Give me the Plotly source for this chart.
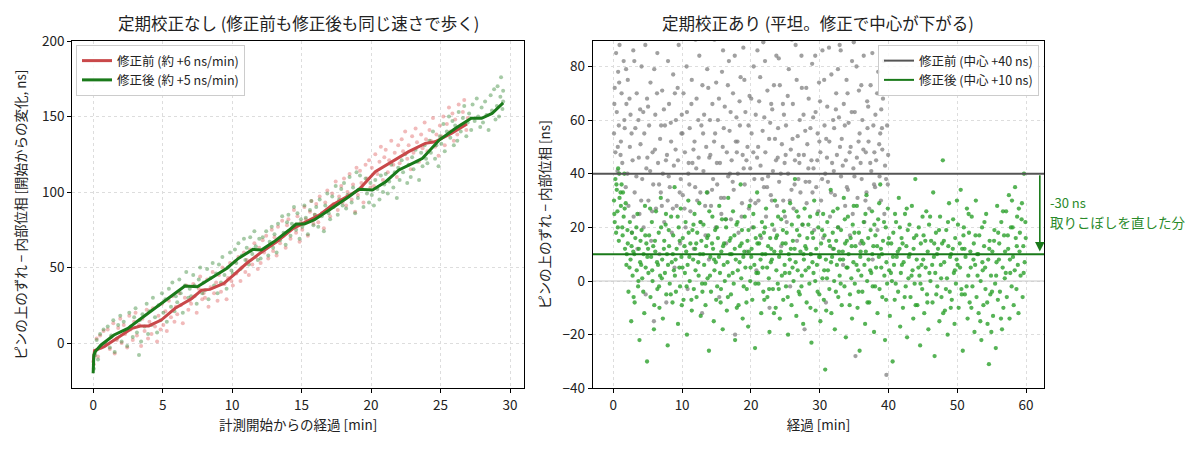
import plotly.graph_objects as go
from plotly.subplots import make_subplots

# ---- left panel: no periodic calibration (both drift) ----
before_line_t = [0, 0.1, 0.8, 1.9, 2.8, 3.4, 4.0, 4.9, 5.9, 7.1, 7.8, 8.4, 9.4, 10.1, 11.05, 12.0,
                 13.2, 14.4, 15.3, 16.3, 17.2, 18.2, 19.1, 20.3, 21.5, 22.7, 23.9, 24.6, 25.8, 26.9]
before_line_ns = [-13, -5, -2.4, 4.2, 9.7, 11.3, 11.3, 15.2, 23, 29.5, 35, 35.5, 39.5, 45, 52.8, 59.4,
                  67, 75.9, 80.3, 84.8, 91.4, 96.9, 101.3, 113.4, 120, 126.7, 132.2, 133.3, 138.9, 145]

after_line_t = [0, 0.05, 0.15, 0.57, 1.5, 2.5, 3.3, 4.6, 5.6, 6.6, 7.5, 8.3, 9.6, 10.45, 11.5, 12.1,
                13.0, 14.1, 14.6, 15.2, 15.9, 16.8, 17.7, 18.4, 19.1, 20.1, 21.05, 22.0, 23.2, 23.7,
                24.9, 26.05, 27.2, 27.95, 28.7, 29.5]
after_line_ns = [-20, -8, -5.7, -1.3, 5.3, 9.7, 15.2, 24, 30.7, 37.7, 37.3, 41.7, 49.4, 56, 62, 61.6,
                 67, 74.8, 78.8, 78.8, 81.5, 87, 92.5, 96.9, 101.8, 101.3, 106.8, 114.6, 120, 122.3,
                 134.4, 142, 148.8, 148.8, 152, 159]

before_pts = [
    (0.05, -14), (0.15, -6), (0.25, 3), (0.35, -9), (0.5, 5), (0.6, -3), (0.75, 8), (0.9, -1),
    (1.05, 9), (1.2, -4), (1.3, 4), (1.45, 13), (1.55, -7), (1.7, 2), (1.8, 10), (1.95, 16),
    (2.05, 0), (2.2, 12), (2.3, 6), (2.45, -3), (2.6, 18), (2.7, 9), (2.85, 2), (2.95, 14),
    (3.05, 20), (3.15, 5), (3.3, 12), (3.45, -2), (3.55, 16), (3.7, 8), (3.85, 22), (3.95, 3),
    (4.05, 14), (4.2, 6), (4.3, 23), (4.45, 11), (4.6, 1), (4.7, 18), (4.85, 9), (4.95, 26),
    (5.05, 12), (5.2, 21), (5.3, 8), (5.45, 28), (5.6, 17), (5.7, 31), (5.85, 14), (5.95, 24),
    (6.05, 19), (6.2, 33), (6.3, 25), (6.45, 13), (6.6, 30), (6.7, 38), (6.85, 22), (6.95, 28),
    (7.05, 26), (7.2, 39), (7.3, 31), (7.45, 20), (7.6, 36), (7.7, 44), (7.85, 29), (7.95, 33),
    (8.05, 30), (8.2, 42), (8.3, 24), (8.45, 37), (8.6, 47), (8.7, 33), (8.85, 40), (8.95, 28),
    (9.05, 45), (9.2, 34), (9.3, 50), (9.45, 39), (9.6, 29), (9.7, 43), (9.85, 53), (9.95, 41),
    (10.05, 38), (10.2, 54), (10.3, 46), (10.45, 57), (10.6, 41), (10.7, 50), (10.85, 60), (10.95, 47),
    (11.05, 55), (11.2, 45), (11.3, 62), (11.45, 52), (11.6, 66), (11.7, 57), (11.85, 49), (11.95, 63),
    (12.05, 53), (12.2, 68), (12.3, 60), (12.45, 71), (12.6, 56), (12.7, 65), (12.85, 75), (12.95, 61),
    (13.05, 70), (13.2, 58), (13.3, 77), (13.45, 66), (13.6, 81), (13.7, 71), (13.85, 63), (13.95, 78),
    (14.05, 82), (14.2, 69), (14.3, 76), (14.45, 88), (14.6, 73), (14.7, 84), (14.85, 67), (14.95, 80),
    (15.05, 75), (15.2, 90), (15.3, 82), (15.45, 71), (15.6, 87), (15.7, 94), (15.85, 79), (15.95, 85),
    (16.05, 92), (16.2, 80), (16.3, 97), (16.45, 86), (16.6, 76), (16.7, 93), (16.85, 101), (16.95, 88),
    (17.05, 84), (17.2, 99), (17.3, 92), (17.45, 107), (17.6, 88), (17.7, 97), (17.85, 104), (17.95, 93),
    (18.05, 109), (18.2, 91), (18.3, 100), (18.45, 112), (18.6, 95), (18.7, 105), (18.85, 87), (18.95, 116),
    (19.05, 98), (19.2, 114), (19.3, 106), (19.45, 93), (19.6, 118), (19.7, 109), (19.85, 121), (19.95, 103),
    (20.05, 116), (20.2, 104), (20.3, 125), (20.45, 112), (20.6, 120), (20.7, 130), (20.85, 108), (20.95, 123),
    (21.05, 128), (21.2, 113), (21.3, 121), (21.45, 134), (21.6, 118), (21.7, 126), (21.85, 110), (21.95, 131),
    (22.05, 119), (22.2, 135), (22.3, 127), (22.45, 140), (22.6, 122), (22.7, 131), (22.85, 115), (22.95, 137),
    (23.05, 126), (23.2, 142), (23.3, 133), (23.45, 120), (23.6, 138), (23.7, 129), (23.85, 146), (23.95, 135),
    (24.05, 127), (24.2, 141), (24.3, 134), (24.45, 149), (24.6, 130), (24.7, 138), (24.85, 124), (24.95, 144),
    (25.05, 137), (25.2, 150), (25.3, 131), (25.45, 145), (25.6, 156), (25.7, 140), (25.85, 152), (25.95, 134),
    (26.05, 148), (26.2, 138), (26.3, 158), (26.45, 144), (26.6, 153), (26.7, 161), (26.85, 141), (26.95, 149),
]

after_pts = [
    (0.05, -17), (0.15, -8), (0.25, 2), (0.35, -11), (0.5, 6), (0.6, -2), (0.75, 9), (0.9, 0),
    (1.05, 11), (1.2, -3), (1.3, 5), (1.45, 15), (1.55, -6), (1.7, 3), (1.8, 12), (1.95, 18),
    (2.05, 1), (2.2, 14), (2.3, 8), (2.45, -2), (2.6, 20), (2.7, 11), (2.85, 4), (2.95, 17),
    (3.05, 23), (3.15, 7), (3.3, -8), (3.35, 15), (3.45, 1), (3.55, 19), (3.7, 11), (3.85, 26), (3.95, 6),
    (4.05, 21), (4.2, 12), (4.3, 30), (4.45, 17), (4.6, 7), (4.7, 25), (4.85, 15), (4.95, 33),
    (5.05, 20), (5.2, 29), (5.3, 14), (5.45, 36), (5.6, 24), (5.7, 40), (5.85, 21), (5.95, 31),
    (6.05, 27), (6.2, 42), (6.3, 33), (6.45, 20), (6.6, 38), (6.7, 47), (6.85, 30), (6.95, 36),
    (7.05, 31), (7.2, 45), (7.3, 38), (7.45, 26), (7.6, 42), (7.7, 50), (7.85, 33), (7.95, 40),
    (8.05, 35), (8.2, 49), (8.3, 29), (8.45, 43), (8.6, 53), (8.7, 38), (8.85, 46), (8.95, 33),
    (9.05, 52), (9.2, 40), (9.3, 57), (9.45, 45), (9.6, 36), (9.7, 50), (9.85, 60), (9.95, 48),
    (10.05, 46), (10.2, 62), (10.3, 53), (10.45, 66), (10.6, 49), (10.7, 58), (10.85, 69), (10.95, 55),
    (11.05, 63), (11.2, 52), (11.3, 70), (11.45, 59), (11.6, 74), (11.7, 64), (11.85, 55), (11.95, 69),
    (12.05, 56), (12.2, 70), (12.3, 62), (12.45, 74), (12.6, 58), (12.7, 67), (12.85, 77), (12.95, 63),
    (13.05, 72), (13.2, 60), (13.3, 79), (13.45, 68), (13.6, 84), (13.7, 73), (13.85, 65), (13.95, 80),
    (14.05, 85), (14.2, 71), (14.3, 79), (14.45, 90), (14.6, 75), (14.7, 86), (14.85, 69), (14.95, 82),
    (15.05, 77), (15.2, 91), (15.3, 83), (15.45, 72), (15.6, 88), (15.7, 94), (15.85, 78), (15.95, 85),
    (16.05, 90), (16.2, 77), (16.3, 95), (16.45, 84), (16.6, 74), (16.7, 91), (16.85, 99), (16.95, 86),
    (17.05, 82), (17.2, 97), (17.3, 90), (17.45, 104), (17.6, 85), (17.7, 95), (17.85, 102), (17.95, 91),
    (18.05, 106), (18.2, 89), (18.3, 98), (18.45, 110), (18.6, 93), (18.7, 103), (18.85, 86), (18.95, 113),
    (19.05, 96), (19.2, 111), (19.3, 103), (19.45, 90), (19.6, 109), (19.7, 99), (19.85, 93), (19.95, 106),
    (20.05, 98), (20.2, 91), (20.3, 108), (20.45, 102), (20.6, 95), (20.7, 111), (20.85, 100), (20.95, 105),
    (21.05, 112), (21.2, 99), (21.3, 107), (21.45, 118), (21.6, 103), (21.7, 113), (21.85, 96), (21.95, 116),
    (22.05, 108), (22.2, 121), (22.3, 113), (22.45, 125), (22.6, 106), (22.7, 118), (22.85, 110), (22.95, 123),
    (23.05, 115), (23.2, 128), (23.3, 120), (23.45, 108), (23.6, 126), (23.7, 117), (23.85, 131), (23.95, 122),
    (24.05, 119), (24.2, 134), (24.3, 126), (24.45, 140), (24.6, 122), (24.7, 131), (24.85, 117), (24.95, 137),
    (25.05, 132), (25.2, 145), (25.3, 127), (25.45, 140), (25.6, 150), (25.7, 136), (25.85, 147), (25.95, 131),
    (26.05, 144), (26.2, 134), (26.3, 153), (26.45, 140), (26.6, 149), (26.7, 157), (26.85, 137), (26.95, 146),
    (27.05, 152), (27.2, 141), (27.3, 158), (27.45, 147), (27.6, 162), (27.7, 150), (27.85, 143), (27.95, 156),
    (28.05, 146), (28.2, 160), (28.3, 151), (28.45, 141), (28.6, 164), (28.7, 154), (28.85, 168), (28.95, 148),
    (29.05, 157), (29.1, 170), (29.2, 150), (29.3, 163), (29.35, 176), (29.45, 155), (29.5, 167), (29.5, 160),
]

# ---- right panel: periodic calibration (flat) ----
center_before = 40
center_after = 10

gray_pts = [
    (0.1, 55), (0.2, 72), (0.3, 48), (0.4, 85), (0.5, 63), (0.6, 41), (0.7, 78), (0.8, 58), (0.9, 88),
    (1.1, 52), (1.2, 70), (1.3, 44), (1.5, 82), (1.6, 60), (1.8, 35), (1.9, 66),
    (2.1, 75), (2.2, 28), (2.4, 50), (2.5, 62), (2.7, 18), (2.8, 45), (2.9, 86),
    (3.1, 33), (3.2, 57), (3.4, 70), (3.5, 12), (3.7, 46), (3.8, 25), (3.9, 64),
    (4.1, 80), (4.2, 38), (4.4, 20), (4.5, 55), (4.7, -5), (4.8, 42), (4.9, 68),
    (5.1, 30), (5.2, 58), (5.4, 74), (5.5, 15), (5.7, 48), (5.8, 36), (5.9, -15),
    (6.1, 62), (6.2, 27), (6.4, 85), (6.5, 44), (6.7, 10), (6.8, 53), (6.9, 33),
    (7.1, 71), (7.2, 40), (7.4, 22), (7.5, 58), (7.7, -8), (7.8, 47), (7.9, 30),
    (8.1, 66), (8.2, 35), (8.4, 52), (8.5, 18), (8.7, 77), (8.8, 43), (8.9, 5),
    (9.1, 60), (9.2, 28), (9.4, 45), (9.5, 88), (9.7, 14), (9.8, 38), (9.9, 55),
    (10.1, 32), (10.2, 70), (10.4, 48), (10.5, 20), (10.7, 63), (10.8, -3), (10.9, 40),
    (11.1, 57), (11.2, 26), (11.4, 75), (11.5, 44), (11.7, 12), (11.8, 52), (11.9, 35),
    (12.1, 68), (12.2, 30), (12.4, 46), (12.5, 84), (12.7, 22), (12.8, 58), (12.9, -12),
    (13.1, 41), (13.2, 62), (13.4, 17), (13.5, 50), (13.7, 33), (13.8, 72), (13.9, 8),
    (14.1, 47), (14.2, 28), (14.4, 66), (14.5, 38), (14.7, 90), (14.8, 55), (14.9, 20),
    (15.1, 36), (15.2, 60), (15.4, -6), (15.5, 44), (15.7, 25), (15.8, 78), (15.9, 50),
    (16.1, 31), (16.2, 65), (16.4, 14), (16.5, 48), (16.7, 39), (16.8, 82), (16.9, 56),
    (17.1, 23), (17.2, 45), (17.4, 70), (17.5, 34), (17.7, -20), (17.8, 52), (17.9, 61),
    (18.1, 40), (18.2, 18), (18.4, 58), (18.5, 76), (18.7, 29), (18.8, 47), (18.9, 87),
    (19.1, 36), (19.2, 63), (19.4, 11), (19.5, 50), (19.7, 27), (19.8, 69), (19.9, 42),
    (20.1, 55), (20.2, 20), (20.4, 80), (20.5, 38), (20.7, 62), (20.8, 4), (20.9, 46),
    (21.1, 30), (21.2, 67), (21.4, 43), (21.5, 16), (21.7, 56), (21.8, 89), (21.9, 35),
    (22.1, 48), (22.2, 24), (22.4, 71), (22.5, 39), (22.7, -10), (22.8, 59), (22.9, 32),
    (23.1, 64), (23.2, 41), (23.4, 19), (23.5, 53), (23.7, 84), (23.8, 28), (23.9, 46),
    (24.1, 37), (24.2, 73), (24.4, 13), (24.5, 51), (24.7, 30), (24.8, 62), (24.9, 44),
    (25.1, 58), (25.2, 22), (25.4, 40), (25.5, 79), (25.7, -2), (25.8, 49), (25.9, 34),
    (26.1, 66), (26.2, 27), (26.4, 45), (26.5, 88), (26.7, 15), (26.8, 54), (26.9, 38),
    (27.1, 60), (27.2, 33), (27.4, 72), (27.5, 21), (27.7, 47), (27.8, -18), (27.9, 56),
    (28.1, 29), (28.2, 51), (28.4, 68), (28.5, 37), (28.7, 10), (28.8, 45), (28.9, 81),
    (29.1, 42), (29.2, 19), (29.4, 63), (29.5, 35), (29.7, 55), (29.8, 26), (29.9, 74),
    (30.1, 48), (30.2, 30), (30.4, 86), (30.5, 16), (30.7, 58), (30.8, 40), (30.9, -8),
    (31.1, 65), (31.2, 37), (31.4, 52), (31.5, 24), (31.7, 77), (31.8, 44), (31.9, 12),
    (32.1, 57), (32.2, 32), (32.4, 70), (32.5, 47), (32.7, 20), (32.8, 61), (32.9, 88),
    (33.1, 39), (33.2, 53), (33.4, 6), (33.5, 66), (33.7, 28), (33.8, 45), (33.9, 75),
    (34.1, 34), (34.2, 59), (34.4, 17), (34.5, 50), (34.7, 82), (34.8, 25), (34.9, 42),
    (35.1, 63), (35.2, -28), (35.4, 46), (35.5, 31), (35.7, 71), (35.8, 55), (35.9, 14),
    (36.1, 38), (36.2, 60), (36.4, 84), (36.5, 22), (36.7, 48), (36.8, 33), (36.9, 67),
    (37.1, 52), (37.2, 27), (37.4, 73), (37.5, 41), (37.7, 8), (37.8, 58), (37.9, 36),
    (38.1, 62), (38.2, 45), (38.4, 19), (38.5, 78), (38.7, 39), (38.8, 55), (38.9, 30),
    (39.1, 49), (39.2, 68), (39.4, 25), (39.5, 43), (39.7, -35), (39.8, 58), (39.9, 36),
]

gray_pts_more = [
    (0.15, 66), (0.45, 93), (0.65, 50), (0.85, 74), (1.05, 47), (1.35, 91), (1.65, 57), (1.85, 79),
    (2.05, 40), (2.35, 68), (2.65, 55), (2.95, 24), (3.05, 82), (3.35, 39), (3.65, 60), (3.95, 51),
    (4.05, 30), (4.35, 63), (4.65, 88), (4.95, 46), (5.05, 65), (5.35, 41), (5.65, 26), (5.95, 79),
    (6.05, 49), (6.35, 70), (6.65, 36), (6.95, 58), (7.05, 28), (7.35, 64), (7.65, 45), (7.95, 82),
    (8.05, 39), (8.35, 59), (8.65, 27), (8.95, 70), (9.05, 49), (9.35, 72), (9.65, 33), (9.95, 62),
    (10.05, 55), (10.35, 27), (10.65, 80), (10.95, 44), (11.05, 36), (11.35, 66), (11.65, 49), (11.95, 90),
    (12.05, 42), (12.35, 60), (12.65, 33), (12.95, 73), (13.05, 55), (13.35, 28), (13.65, 79), (13.95, 46),
    (14.05, 60), (14.35, 34), (14.65, 52), (14.95, 74), (15.05, 44), (15.35, 68), (15.65, 31), (15.95, 86),
    (16.05, 57), (16.35, 23), (16.65, 73), (16.95, 40), (17.05, 63), (17.35, 37), (17.65, 84), (17.95, 48),
    (18.05, 52), (18.35, 67), (18.65, 24), (18.95, 42), (19.05, 75), (19.35, 45), (19.65, 58), (19.95, 30),
    (20.05, 68), (20.35, 48), (20.65, 29), (20.95, 86), (21.05, 50), (21.35, 76), (21.65, 38), (21.95, 61),
    (22.05, 82), (22.35, 35), (22.65, 53), (22.95, 66), (23.05, 30), (23.35, 73), (23.65, 45), (23.95, 57),
    (24.05, 83), (24.35, 40), (24.65, 66), (24.95, 24), (25.05, 47), (25.35, 69), (25.65, 30), (25.95, 90),
    (26.05, 53), (26.35, 36), (26.65, 75), (26.95, 47), (27.05, 44), (27.35, 84), (27.65, 62), (27.95, 37),
    (28.05, 72), (28.35, 42), (28.65, 57), (28.95, 33), (29.05, 61), (29.35, 84), (29.65, 45), (29.95, 52),
    (30.05, 67), (30.35, 38), (30.65, 75), (30.95, 53), (31.05, 46), (31.35, 87), (31.65, 33), (31.95, 60),
    (32.05, 41), (32.35, 64), (32.65, 79), (32.95, 50), (33.05, 86), (33.35, 43), (33.65, 58), (33.95, 35),
    (34.05, 70), (34.35, 48), (34.65, 63), (34.95, 89), (35.05, 39), (35.35, 80), (35.65, 52), (35.95, 44),
    (36.05, 73), (36.35, 49), (36.65, 30), (36.95, 57), (37.05, 65), (37.35, 44), (37.65, 85), (37.95, 48),
    (38.05, 35), (38.35, 70), (38.65, 51), (38.95, 64), (39.05, 57), (39.35, 82), (39.65, 38), (39.95, 47),
]

green_pts = [
    (0.1, 30), (0.2, 22), (0.3, 38), (0.4, 18), (0.5, 34), (0.6, 26), (0.7, 42), (0.8, 15), (0.9, 31),
    (1.1, 28), (1.2, 36), (1.3, 20), (1.4, 33), (1.5, 24), (1.6, 40), (1.7, 12), (1.8, 29), (1.9, 6),
    (2.1, 14), (2.2, -4), (2.4, 22), (2.5, 8), (2.6, -15), (2.7, 18), (2.8, 2), (2.9, 11),
    (3.1, -8), (3.2, 16), (3.4, 4), (3.5, 25), (3.6, -2), (3.7, 12), (3.8, -22), (3.9, 7),
    (4.1, 19), (4.2, 1), (4.4, 10), (4.5, -12), (4.6, 28), (4.7, 5), (4.8, 14), (4.9, -30),
    (5.1, 3), (5.2, 17), (5.4, -6), (5.5, 9), (5.6, 22), (5.7, 0), (5.8, 13), (5.9, -18),
    (6.1, 11), (6.2, 26), (6.4, -3), (6.5, 6), (6.6, 18), (6.7, -10), (6.8, 2), (6.9, 31),
    (7.1, 8), (7.2, -14), (7.4, 15), (7.5, 3), (7.6, 21), (7.7, -5), (7.8, 10), (7.9, -24),
    (8.1, 13), (8.2, -1), (8.4, 24), (8.5, 7), (8.6, -8), (8.7, 17), (8.8, 4), (8.9, 35),
    (9.1, -4), (9.2, 12), (9.4, -16), (9.5, 20), (9.6, 5), (9.7, -2), (9.8, 27), (9.9, 9),
    (10.1, 16), (10.2, -7), (10.4, 3), (10.5, 22), (10.6, 11), (10.7, -20), (10.8, 6), (10.9, 30),
    (11.1, 0), (11.2, 14), (11.4, -11), (11.5, 19), (11.6, 8), (11.7, -3), (11.8, 25), (11.9, 12),
    (12.1, -6), (12.2, 18), (12.4, 2), (12.5, 29), (12.6, 10), (12.7, -13), (12.8, 15), (12.9, -1),
    (13.1, 21), (13.2, 6), (13.4, -9), (13.5, 13), (13.6, 33), (13.7, 1), (13.8, 17), (13.9, -26),
    (14.1, 9), (14.2, -4), (14.4, 24), (14.5, 12), (14.6, -15), (14.7, 4), (14.8, 19), (14.9, 7),
    (15.1, -2), (15.2, 16), (15.4, 28), (15.5, 3), (15.6, -8), (15.7, 11), (15.8, 23), (15.9, -18),
    (16.1, 14), (16.2, 0), (16.4, 20), (16.5, -11), (16.6, 7), (16.7, 31), (16.8, 2), (16.9, 15),
    (17.1, -5), (17.2, 10), (17.4, 26), (17.5, -1), (17.6, 17), (17.7, -22), (17.8, 8), (17.9, 21),
    (18.1, 4), (18.2, -9), (18.4, 13), (18.5, 36), (18.6, 1), (18.7, 19), (18.8, -14), (18.9, 9),
    (19.1, 24), (19.2, 5), (19.4, -3), (19.5, 15), (19.6, -17), (19.7, 11), (19.8, 28), (19.9, 0),
    (20.1, 12), (20.2, -7), (20.4, 20), (20.5, 6), (20.6, -25), (20.7, 16), (20.8, 3), (20.9, 33),
    (21.1, -1), (21.2, 14), (21.4, 8), (21.5, -12), (21.6, 22), (21.7, 5), (21.8, -4), (21.9, 18),
    (22.1, 10), (22.2, 27), (22.4, -6), (22.5, 13), (22.6, 1), (22.7, -19), (22.8, 16), (22.9, 7),
    (23.1, 21), (23.2, -3), (23.4, 11), (23.5, 30), (23.6, -10), (23.7, 4), (23.8, 17), (23.9, -1),
    (24.1, 9), (24.2, -14), (24.4, 23), (24.5, 2), (24.6, 14), (24.7, -7), (24.8, 26), (24.9, 6),
    (25.1, -2), (25.2, 18), (25.4, -20), (25.5, 10), (25.6, 3), (25.7, 29), (25.8, 12), (25.9, -9),
    (26.1, 15), (26.2, 0), (26.4, 38), (26.5, 7), (26.6, -13), (26.7, 19), (26.8, 4), (26.9, 24),
    (27.1, -5), (27.2, 11), (27.4, 2), (27.5, 21), (27.6, -16), (27.7, 8), (27.8, 27), (27.9, 13),
    (28.1, -8), (28.2, 16), (28.4, 5), (28.5, -1), (28.6, 24), (28.7, 10), (28.8, -23), (28.9, 18),
    (29.1, 3), (29.2, 30), (29.4, -11), (29.5, 12), (29.6, 6), (29.7, -4), (29.8, 20), (29.9, 9),
    (30.1, -15), (30.2, 14), (30.4, 1), (30.5, 25), (30.6, -7), (30.7, 17), (30.8, -33), (30.9, 8),
    (31.1, 22), (31.2, 4), (31.4, -3), (31.5, 13), (31.6, 34), (31.7, -12), (31.8, 9), (31.9, 18),
    (32.1, 0), (32.2, -18), (32.4, 15), (32.5, 6), (32.6, 27), (32.7, -6), (32.8, 11), (32.9, 2),
    (33.1, 19), (33.2, -9), (33.4, 8), (33.5, 31), (33.6, -2), (33.7, 14), (33.8, -21), (33.9, 5),
    (34.1, 24), (34.2, 10), (34.4, -5), (34.5, 16), (34.6, 1), (34.7, -14), (34.8, 21), (34.9, 7),
    (35.1, -1), (35.2, 13), (35.4, 28), (35.5, -10), (35.6, 4), (35.7, 18), (35.8, -26), (35.9, 9),
    (36.1, 15), (36.2, -4), (36.4, 22), (36.5, 6), (36.6, -16), (36.7, 11), (36.8, 32), (36.9, 0),
    (37.1, 8), (37.2, -8), (37.4, 19), (37.5, 3), (37.6, 26), (37.7, -2), (37.8, 13), (37.9, -19),
    (38.1, 17), (38.2, 5), (38.4, -12), (38.5, 23), (38.6, 9), (38.7, -3), (38.8, 36), (38.9, 12),
    (39.1, -6), (39.2, 15), (39.4, 2), (39.5, -22), (39.6, 20), (39.7, 7), (39.8, -1), (39.9, 27),
    (40.1, 4), (40.2, -13), (40.4, 14), (40.5, 0), (40.6, -30), (40.7, 18), (40.8, 6), (40.9, -7),
    (41.1, 22), (41.2, 9), (41.4, -4), (41.5, 31), (41.6, 12), (41.7, -17), (41.8, 3), (41.9, 16),
    (42.1, -10), (42.2, 7), (42.4, 25), (42.5, -2), (42.6, 13), (42.7, -21), (42.8, 19), (42.9, 1),
    (43.1, 10), (43.2, -6), (43.4, 28), (43.5, 4), (43.6, -14), (43.7, 16), (43.8, -1), (43.9, 38),
    (44.1, 8), (44.2, -9), (44.4, 20), (44.5, 2), (44.6, -24), (44.7, 14), (44.8, 6), (44.9, -3),
    (45.1, 17), (45.2, -12), (45.4, 5), (45.5, 26), (45.6, -5), (45.7, 11), (45.8, -18), (45.9, 21),
    (46.1, 0), (46.2, 15), (46.4, -8), (46.5, 33), (46.6, 9), (46.7, -28), (46.8, 3), (46.9, 18),
    (47.1, -2), (47.2, 12), (47.4, -15), (47.5, 24), (47.6, 6), (47.7, -6), (47.8, 14), (47.9, 45),
    (48.1, 7), (48.2, -11), (48.4, 19), (48.5, 1), (48.6, -20), (48.7, 13), (48.8, 29), (48.9, -4),
    (49.1, 10), (49.2, -7), (49.4, 23), (49.5, 3), (49.6, -16), (49.7, 16), (49.8, -1), (49.9, 8),
    (50.1, 21), (50.2, -10), (50.4, 5), (50.5, 34), (50.6, -3), (50.7, 12), (50.8, -26), (50.9, 17),
    (51.1, -5), (51.2, 9), (51.4, 27), (51.5, -14), (51.6, 2), (51.7, 18), (51.8, -8), (51.9, 11),
    (52.1, 24), (52.2, -2), (52.4, 14), (52.5, -19), (52.6, 6), (52.7, 30), (52.8, -6), (52.9, 10),
    (53.1, -12), (53.2, 17), (53.4, 0), (53.5, -22), (53.6, 20), (53.7, 4), (53.8, -9), (53.9, 13),
    (54.1, -3), (54.2, 25), (54.4, -16), (54.5, 8), (54.6, -31), (54.7, 15), (54.8, -5), (54.9, 2),
    (55.1, 11), (55.2, -13), (55.4, 19), (55.5, -1), (55.6, -25), (55.7, 7), (55.8, 28), (55.9, -7),
    (56.1, 14), (56.2, -4), (56.4, 22), (56.5, -18), (56.6, 5), (56.7, -10), (56.8, 17), (56.9, 1),
    (57.1, 26), (57.2, -6), (57.4, 12), (57.5, 32), (57.6, -14), (57.7, 3), (57.8, 20), (57.9, -2),
    (58.1, 9), (58.2, -9), (58.4, 35), (58.5, 16), (58.6, -3), (58.7, 24), (58.8, 6), (58.9, -12),
    (59.1, 18), (59.2, 2), (59.4, 29), (59.5, -6), (59.6, 13), (59.7, 40), (59.8, 7), (59.9, 22),
]

green_pts_more = [
    (0.15, 25), (0.45, 36), (0.65, 20), (0.85, 40), (1.05, 33), (1.35, 17), (1.65, 27), (1.95, 10),
    (2.05, 19), (2.35, 5), (2.65, 13), (2.95, -6), (3.05, 10), (3.35, 20), (3.65, 0), (3.95, 15),
    (4.05, 6), (4.35, -4), (4.65, 17), (4.95, 9), (5.05, 12), (5.35, 27), (5.65, 4), (5.95, -9),
    (6.05, 15), (6.35, 7), (6.65, -2), (6.95, 20), (7.05, 1), (7.35, 12), (7.65, 25), (7.95, 6),
    (8.05, 19), (8.35, -5), (8.65, 10), (8.95, 2), (9.05, 8), (9.35, 24), (9.65, 15), (9.95, -9),
    (10.05, 5), (10.35, 13), (10.65, -2), (10.95, 18), (11.05, 9), (11.35, -7), (11.65, 21), (11.95, 4),
    (12.05, 14), (12.35, 7), (12.65, 22), (12.95, -4), (13.05, 10), (13.35, -1), (13.65, 16), (13.95, 26),
    (14.05, 2), (14.35, 14), (14.65, 8), (14.95, -7), (15.05, 20), (15.35, 9), (15.65, -3), (15.95, 13),
    (16.05, 6), (16.35, 23), (16.65, -6), (16.95, 10), (17.05, 16), (17.35, 3), (17.65, 12), (17.95, -10),
    (18.05, 22), (18.35, 7), (18.65, 14), (18.95, -2), (19.05, 11), (19.35, -8), (19.65, 19), (19.95, 5),
    (20.05, 9), (20.35, 25), (20.65, -1), (20.95, 14), (21.05, 3), (21.35, 17), (21.65, 10), (21.95, -7),
    (22.05, 20), (22.35, 5), (22.65, -3), (22.95, 12), (23.05, 8), (23.35, -12), (23.65, 16), (23.95, 24),
    (24.05, -3), (24.35, 11), (24.65, 19), (24.95, 3), (25.05, 14), (25.35, -6), (25.65, 8), (25.95, 21),
    (26.05, 5), (26.35, 12), (26.65, 26), (26.95, -4), (27.05, 17), (27.35, -2), (27.65, 10), (27.95, 4),
    (28.05, 12), (28.35, 21), (28.65, -10), (28.95, 7), (29.05, 16), (29.35, 0), (29.65, 25), (29.95, -5),
    (30.05, 9), (30.35, 19), (30.65, 4), (30.95, -11), (31.05, 1), (31.35, 15), (31.65, 7), (31.95, 26),
    (32.05, 12), (32.35, -4), (32.65, 20), (32.95, 8), (33.05, -1), (33.35, 11), (33.65, 23), (33.95, 15),
    (34.05, 5), (34.35, -9), (34.65, 13), (34.95, 28), (35.05, 18), (35.35, 6), (35.65, -4), (35.95, 11),
    (36.05, 2), (36.35, 14), (36.65, 25), (36.95, -8), (37.05, 16), (37.35, 4), (37.65, 10), (37.95, 21),
    (38.05, -2), (38.35, 13), (38.65, 29), (38.95, 5), (39.05, 10), (39.35, 22), (39.65, -7), (39.95, 14),
    (40.05, 16), (40.35, 3), (40.65, 9), (40.95, 25), (41.05, -1), (41.35, 11), (41.65, 20), (41.95, 6),
    (42.05, 14), (42.35, -6), (42.65, 27), (42.95, 9), (43.05, 21), (43.35, 2), (43.65, 12), (43.95, -9),
    (44.05, 17), (44.35, 5), (44.65, -1), (44.95, 24), (45.05, 8), (45.35, 15), (45.65, -8), (45.95, 3),
    (46.05, 24), (46.35, 6), (46.65, 14), (46.95, -5), (47.05, 10), (47.35, 19), (47.65, 1), (47.95, -12),
    (48.05, 15), (48.35, -3), (48.65, 22), (48.95, 9), (49.05, -10), (49.35, 12), (49.65, 4), (49.95, 30),
    (50.05, 6), (50.35, 14), (50.65, -5), (50.95, 20), (51.05, 12), (51.35, -2), (51.65, 25), (51.95, 5),
    (52.05, -10), (52.35, 8), (52.65, 17), (52.95, 2), (53.05, 10), (53.35, -15), (53.65, 7), (53.95, 22),
    (54.05, 5), (54.35, -8), (54.65, 12), (54.95, -19), (55.05, -4), (55.35, 15), (55.65, 2), (55.95, 18),
    (56.05, 8), (56.35, -14), (56.65, 26), (56.95, 11), (57.05, 3), (57.35, 17), (57.65, 8), (57.95, 30),
    (58.05, 20), (58.35, 4), (58.65, 13), (58.95, 27), (59.05, 11), (59.35, 23), (59.65, 3), (59.95, 16),
]

left_xrange = [-1.5, 31.0]
left_yrange = [-30, 200]
right_xrange = [-3.0, 62.65]
right_yrange = [-40, 89.5]

FONT = "Noto Sans CJK JP"
RED_LINE = "#c9484a"
GREEN_LINE = "#1a7a1a"

# the page body has an 8px margin, so the figure itself starts at (8, 8)
W, H = 1192, 441


def px(x):
    return (x - 8) / W


def py(y):
    return 1 - (y - 8) / H


fig = make_subplots(rows=1, cols=2)

t, ns = zip(*before_pts)
fig.add_trace(go.Scatter(x=t, y=ns, mode="markers", showlegend=False,
                         marker=dict(size=4, color="#e06666", opacity=0.45)), 1, 1)
t, ns = zip(*after_pts)
fig.add_trace(go.Scatter(x=t, y=ns, mode="markers", showlegend=False,
                         marker=dict(size=4, color="#3a8a3a", opacity=0.45)), 1, 1)
fig.add_trace(go.Scatter(x=before_line_t, y=before_line_ns, mode="lines",
                         name="修正前 (約 +6 ns/min)", legend="legend",
                         line=dict(color=RED_LINE, width=3)), 1, 1)
fig.add_trace(go.Scatter(x=after_line_t, y=after_line_ns, mode="lines",
                         name="修正後 (約 +5 ns/min)", legend="legend",
                         line=dict(color=GREEN_LINE, width=3)), 1, 1)

# right panel
fig.add_trace(go.Scatter(x=right_xrange, y=[0, 0], mode="lines", showlegend=False,
                         line=dict(color="#c8c8c8", width=1)), 1, 2)
t, ns = zip(*(gray_pts + gray_pts_more))
fig.add_trace(go.Scatter(x=t, y=ns, mode="markers", showlegend=False,
                         marker=dict(size=4.3, color="#808080", opacity=0.75)), 1, 2)
t, ns = zip(*(green_pts + green_pts_more))
fig.add_trace(go.Scatter(x=t, y=ns, mode="markers", showlegend=False,
                         marker=dict(size=4.3, color="#2ca02c", opacity=0.8)), 1, 2)
fig.add_trace(go.Scatter(x=right_xrange, y=[center_before] * 2, mode="lines",
                         name="修正前 (中心 +40 ns)", legend="legend2",
                         line=dict(color="#555555", width=2)), 1, 2)
fig.add_trace(go.Scatter(x=right_xrange, y=[center_after] * 2, mode="lines",
                         name="修正後 (中心 +10 ns)", legend="legend2",
                         line=dict(color=GREEN_LINE, width=2)), 1, 2)

axis_style = dict(showline=True, mirror=True, linecolor="black", linewidth=1.2,
                  ticks="outside", ticklen=4, tickcolor="black", automargin=False,
                  showgrid=True, gridcolor="#dddddd", griddash="dot", zeroline=False,
                  tickfont=dict(size=13.5, color="#222222"))

fig.update_xaxes(axis_style)
fig.update_yaxes(axis_style)

fig.update_xaxes(domain=[px(72.3), px(524)], range=left_xrange, tickvals=[0, 5, 10, 15, 20, 25, 30],
                 title=dict(text="計測開始からの経過 [min]", font=dict(size=13.5), standoff=4), row=1, col=1)
fig.update_yaxes(domain=[py(388.3), py(41)], range=left_yrange, tickvals=[0, 50, 100, 150, 200],
                 title=dict(text="ピンの上のずれ − 内部位相 [開始からの変化, ns]", font=dict(size=13.5), standoff=12),
                 row=1, col=1)
fig.update_xaxes(domain=[px(592.7), px(1044.3)], range=right_xrange, tickvals=[0, 10, 20, 30, 40, 50, 60],
                 title=dict(text="経過 [min]", font=dict(size=13.5), standoff=4), row=1, col=2)
fig.update_yaxes(domain=[py(388.3), py(41)], range=right_yrange,
                 tickvals=[-40, -20, 0, 20, 40, 60, 80],
                 title=dict(text="ピンの上のずれ − 内部位相 [ns]", font=dict(size=13.5), standoff=8),
                 row=1, col=2)

legend_style = dict(bgcolor="rgba(255,255,255,0.85)", bordercolor="#cccccc", borderwidth=1,
                    font=dict(size=12.5, color="#222222"), yanchor="top", tracegroupgap=2,
                    itemwidth=30)

fig.update_layout(
    width=W, height=H,
    margin=dict(l=0, r=0, t=0, b=0, autoexpand=False),
    paper_bgcolor="white", plot_bgcolor="white",
    font=dict(family=FONT, color="#222222"),
    legend=dict(legend_style, x=px(76), y=py(45), xanchor="left"),
    legend2=dict(legend_style, x=px(1039), y=py(45), xanchor="right"),
    annotations=[
        dict(text="定期校正なし (修正前も修正後も同じ速さで歩く)", xref="paper", yref="paper",
             x=px(298), y=py(23), xanchor="center", yanchor="middle", showarrow=False,
             font=dict(size=16.5)),
        dict(text="定期校正あり (平坦。修正で中心が下がる)", xref="paper", yref="paper",
             x=px(818), y=py(23), xanchor="center", yanchor="middle", showarrow=False,
             font=dict(size=16.5)),
        dict(x=62.0, y=center_after + 1, ax=62.0, ay=center_before, xref="x2", yref="y2",
             axref="x2", ayref="y2", showarrow=True, arrowhead=2, arrowsize=1.2, arrowwidth=1.6,
             arrowcolor=GREEN_LINE, text=""),
        dict(text="-30 ns", xref="paper", yref="paper",
             x=px(1048), y=py(202), xanchor="left", yanchor="middle",
             showarrow=False, font=dict(size=13, color="#2a8a2a")),
        dict(text="取りこぼしを直した分", xref="paper", yref="paper",
             x=px(1048), y=py(222), xanchor="left", yanchor="middle",
             showarrow=False, font=dict(size=13.5, color="#2a8a2a")),
    ],
)

fig.write_html("out.html")
